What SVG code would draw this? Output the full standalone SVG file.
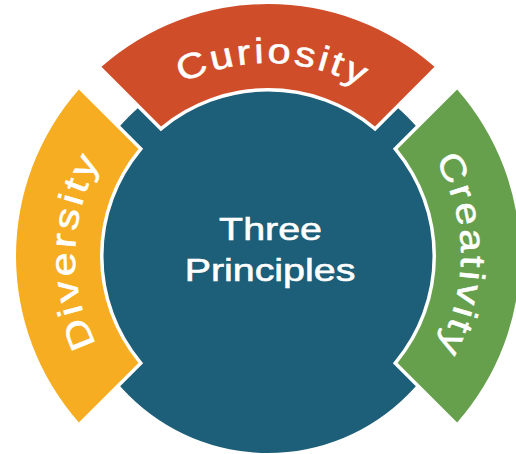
<svg xmlns="http://www.w3.org/2000/svg" width="516" height="454" viewBox="0 0 516 454">
  <style>
    .band { stroke: #ffffff; stroke-width: 7; stroke-linejoin: miter; paint-order: stroke; }
    .label { font-family: "Liberation Sans", Arial, sans-serif; fill: #ffffff; stroke: #ffffff; stroke-width: 0.6; }
    .arc-label { font-size: 35px; letter-spacing: 2.5px; }
    .core-label { font-size: 31.5px; }
  </style>
  <defs>
    <!-- baselines for the curved labels, radius 193 about the hub centre (268,256) -->
    <path id="arc-top" d="M 100.86 159.5 A 193 193 0 0 1 435.14 159.5"/>
    <path id="arc-left" d="M 171.5 423.14 A 193 193 0 0 1 171.5 88.86"/>
    <path id="arc-right" d="M 364.5 88.86 A 193 193 0 0 1 364.5 423.14"/>
  </defs>

  <rect width="516" height="454" fill="#ffffff"/>

  <!-- hub -->
  <g id="three-principles">
    <circle cx="268" cy="256" r="197" fill="#1d5e78"/>
    <text class="label core-label" text-anchor="middle" transform="translate(270.5 240) scale(1.25 1)">Three</text>
    <text class="label core-label" text-anchor="middle" transform="translate(270 281) scale(1.25 1)">Principles</text>
  </g>

  <!-- outer ring segments -->
  <g id="curiosity">
    <path class="band" fill="#d04d29" d="M 101.48 66.86 A 252 252 0 0 1 434.52 66.86 L 374.94 126.43 A 168 168 0 0 0 161.06 126.43 Z"/>
    <text class="label arc-label"><textPath href="#arc-top" startOffset="207" text-anchor="middle" textLength="188" lengthAdjust="spacingAndGlyphs">Curiosity</textPath></text>
  </g>

  <g id="diversity">
    <path class="band" fill="#f6ad22" d="M 78.86 422.52 A 252 252 0 0 1 78.86 89.48 L 138.43 149.06 A 168 168 0 0 0 138.43 362.94 Z"/>
    <text class="label arc-label"><textPath href="#arc-left" startOffset="207" text-anchor="middle" textLength="193" lengthAdjust="spacingAndGlyphs">Diversity</textPath></text>
  </g>

  <g id="creativity">
    <path class="band" fill="#66a04d" d="M 457.14 89.48 A 252 252 0 0 1 457.14 422.52 L 397.57 362.94 A 168 168 0 0 0 397.57 149.06 Z"/>
    <text class="label arc-label"><textPath href="#arc-right" startOffset="201" text-anchor="middle" textLength="200" lengthAdjust="spacingAndGlyphs">Creativity</textPath></text>
  </g>
</svg>
